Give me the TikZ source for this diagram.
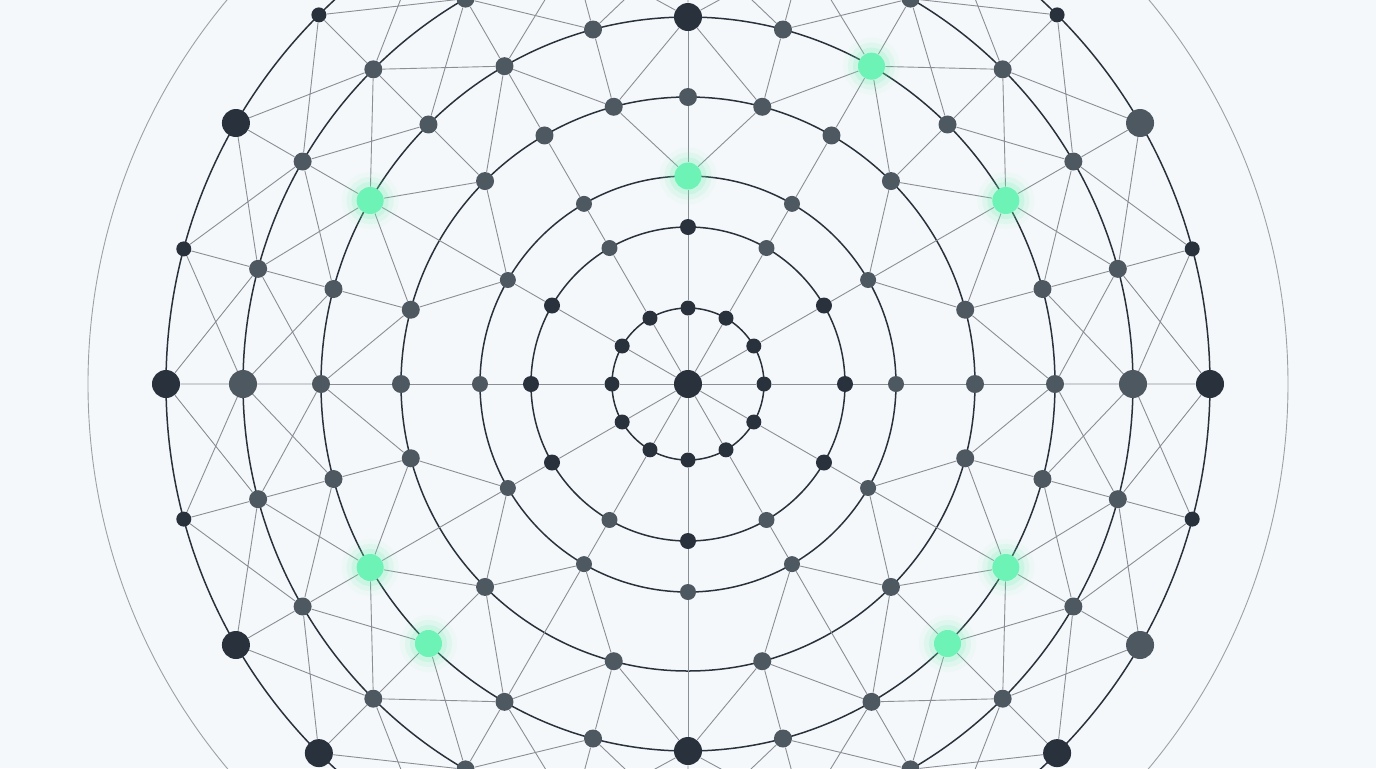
\documentclass[tikz,border=0pt]{standalone}
\usetikzlibrary{backgrounds}

\definecolor{paper}{HTML}{F5F8FA}
\definecolor{inkdark}{HTML}{29323C}
\definecolor{inkgrey}{HTML}{4E5861}
\definecolor{mint}{HTML}{6DF3B5}
\definecolor{wire}{HTML}{8A8F95}
\definecolor{faint}{HTML}{9CA1A6}

\tikzset{
  dot/.style={circle, inner sep=0pt, minimum size=#1},
  dk/.style={dot=7.5pt, fill=inkdark},
  dkm/.style={dot=8pt, fill=inkdark},
  gym/.style={dot=8pt, fill=inkgrey},
  gy/.style={dot=9pt, fill=inkgrey},
  dkbig/.style={dot=14pt, fill=inkdark},
  gybig/.style={dot=14pt, fill=inkgrey},
  glow/.style={dot=13.5pt, fill=mint,
    preaction={draw=mint, line width=15pt, opacity=0.06},
    preaction={draw=mint, line width=10pt, opacity=0.10},
    preaction={draw=mint, line width=5pt, opacity=0.18}},
  ringline/.style={draw=inkdark, line width=0.75pt},
  wireline/.style={draw=wire, line width=0.45pt},
}

\begin{document}
\begin{tikzpicture}[x=0.5pt, y=0.5pt]
\useasboundingbox (-688,-384) rectangle (688,384);

% hub and inner rings
\node[dkbig] (c) at (0,0) {};
\foreach \a in {0,30,...,330}
  \node[dk] (n1-\a) at ({90-\a}:76) {};
\foreach \a/\s in {0/dkm,30/gym,60/dkm,90/dkm,120/dkm,150/gym,180/dkm,210/gym,240/dkm,270/dkm,300/dkm,330/gym}
  \node[\s] (n2-\a) at ({90-\a}:157) {};
\foreach \a/\s in {0/glow,30/gym,60/gym,90/gym,120/gym,150/gym,180/gym,210/gym,240/gym,270/gym,300/gym,330/gym}
  \node[\s] (n3-\a) at ({90-\a}:208) {};

% ring 4 has gaps
\foreach \a in {0,15,30,45,75,90,105,135,165,195,225,255,270,285,315,330,345}
  \node[gy] (n4-\a) at ({90-\a}:287) {};

% outer rings
\foreach \a/\s in {0/dkbig,15/gy,30/glow,45/gy,60/glow,75/gy,90/gy,105/gy,120/glow,135/glow,150/gy,165/gy,180/dkbig,195/gy,210/gy,225/glow,240/glow,255/gy,270/gy,285/gy,300/glow,315/gy,330/gy,345/gy}
  \node[\s] (n5-\a) at ({90-\a}:367) {};
\foreach \a in {0,15,...,345}
  \node[gy] (n6-\a) at ({90-\a}:445) {};
\node[gybig] at (n6-90) {};
\node[gybig] at (n6-270) {};
\foreach \a/\s in {0/dk,15/dk,30/dk,45/dk,60/gybig,75/dk,90/dkbig,105/dk,120/gybig,135/dkbig,150/dk,165/dk,180/dk,195/dk,210/dk,225/dkbig,240/dkbig,255/dk,270/dkbig,285/dk,300/dkbig,315/dk,330/dk,345/dk}
  \node[\s] (n7-\a) at ({90-\a}:522) {};

\begin{scope}[on background layer]
\fill[paper] (-688,-384) rectangle (688,384);
\draw[faint, line width=0.45pt] (c.center) circle (600);
\foreach \r in {76,157,208,287,367,445,522}
  \draw[ringline] (c.center) circle (\r);

% spokes
\foreach \a in {0,30,...,330}
  \draw[wireline] (c) -- (n1-\a) (n1-\a) -- (n2-\a) (n2-\a) -- (n3-\a);

% ring 3 to ring 4, straight on to ring 5 over the gaps
\foreach \a in {0,30,90,270,330}
  \draw[wireline] (n3-\a) -- (n4-\a) (n4-\a) -- (n5-\a);
\foreach \a in {60,120,150,180,210,240,300}
  \draw[wireline] (n3-\a) -- (n5-\a);
\foreach \a/\b in {0/345,0/15,60/45,60/75,120/105,120/135,150/135,150/165,210/195,210/225,240/225,240/255,300/285,300/315}
  \draw[wireline] (n3-\a) -- (n4-\b);

% ring 4 to ring 5
\foreach \a in {15,45,...,345}{
  \pgfmathtruncatemacro\lo{mod(\a+345,360)}
  \pgfmathtruncatemacro\hi{mod(\a+15,360)}
  \draw[wireline] (n4-\a) -- (n5-\lo) (n4-\a) -- (n5-\a) (n4-\a) -- (n5-\hi);
}

% crossed bands between rings 5, 6 and 7
\foreach \a in {0,15,...,345}{
  \pgfmathtruncatemacro\b{mod(\a+15,360)}
  \draw[wireline] (n5-\a) -- (n6-\a) (n5-\a) -- (n6-\b) (n6-\a) -- (n5-\b);
  \draw[wireline] (n6-\a) -- (n7-\a) (n6-\a) -- (n7-\b) (n7-\a) -- (n6-\b);
}
\end{scope}
\end{tikzpicture}
\end{document}
